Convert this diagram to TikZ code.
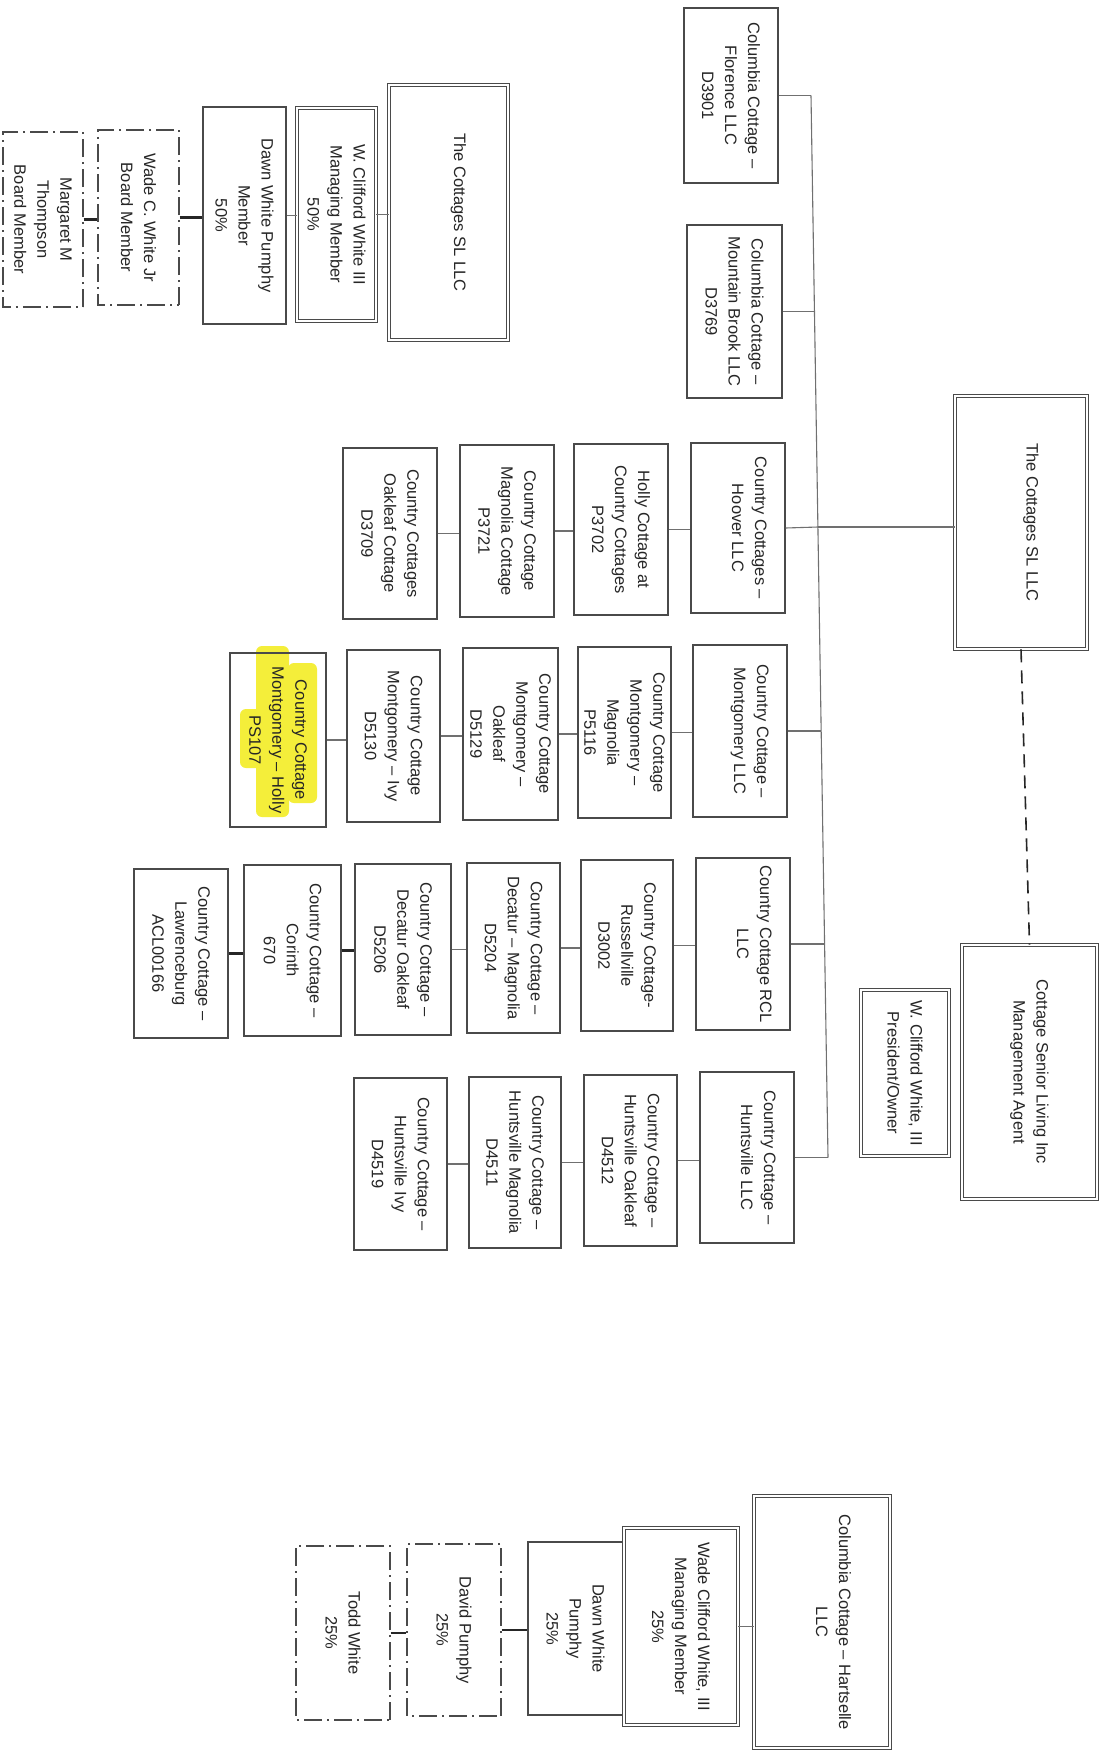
\documentclass[tikz,border=0pt]{standalone}
\usepackage{fontspec}
\newfontfamily\bxf{Liberation Sans}
\definecolor{boxc}{HTML}{4A4A4A}
\definecolor{linec}{HTML}{707070}
\definecolor{hl}{HTML}{F4EE3A}
\tikzset{
 bx/.style={draw=boxc, line width=1.1pt, rotate=-90, inner sep=0pt, align=center, text=black!85, font=\bxf\fontsize{16.5}{23}\selectfont},
 sz/.style n args={2}{minimum height=#1pt, minimum width=#2pt},
 dbl/.style={bx, double, double distance=2.6pt, line width=0.9pt},
 dd/.style={bx, line width=1.3pt, dash pattern=on 18pt off 5pt on 2pt off 5pt},
 conn/.style={draw=linec, line width=1.1pt},
 thk/.style={draw=black!85, line width=2.6pt},
 dsh/.style={draw=black!85, line width=1.6pt, dash pattern=on 13pt off 8pt}
}
\begin{document}
\begin{tikzpicture}[x=1pt,y=-1pt]
\fill[white] (0,0) rectangle (1110,1754);
\useasboundingbox (0,0) rectangle (1110,1754);

% highlight marks
\fill[hl, rounded corners=6pt] (256,646) rectangle (289,817);
\fill[hl, rounded corners=6pt] (288,663) rectangle (317,803);
\fill[hl, rounded corners=6pt] (240,709) rectangle (270,768);

% top owner group
\node[dd, sz={80}{175}] (marg) at (43,219.5) {Margaret M\\Thompson\\Board Member};
\node[dd, sz={81}{175}] (wade) at (138.5,217.5) {Wade C. White Jr\\Board Member};
\node[bx, sz={83}{217}] (dawn1) at (244.5,215.5) {Dawn White Pumphy\\Member\\50\%};
\node[dbl, sz={79}{213}] (wcw1) at (336.5,214.5) {W. Clifford White III\\Managing Member\\50\%};
\node[dbl, sz={119}{255}] (csl1) at (448.5,212.5) {The Cottages SL LLC\\\mbox{}};

% Columbia column
\node[bx, sz={94}{175}] (flor) at (731,95.5) {Columbia Cottage –\\Florence LLC\\D3901};
\node[bx, sz={95}{173}] (mtb) at (734.5,311.5) {Columbia Cottage –\\Mountain Brook LLC\\D3769};

% Hoover row
\node[bx, sz={94}{170}] (hoover) at (738,528) {Country Cottages –\\Hoover LLC\\\mbox{}};
\node[bx, sz={94}{171}] (holly) at (621,529.5) {Holly Cottage at\\Country Cottages\\P3702};
\node[bx, sz={94}{172}] (magp) at (507,531) {Country Cottage\\Magnolia Cottage\\P3721};
\node[bx, sz={94}{171}] (oakd) at (390,533.5) {Country Cottages\\Oakleaf Cottage\\D3709};

% Montgomery row
\node[bx, sz={94}{172}] (mont) at (740,731) {Country Cottage –\\Montgomery LLC\\\mbox{}};
\node[bx, sz={93}{171}] (mmag) at (624.5,732.5) {Country Cottage\\Montgomery –\\Magnolia\\P5116};
\node[bx, sz={95}{172}] (moak) at (510.5,734) {Country Cottage\\Montgomery –\\Oakleaf\\D5129};
\node[bx, sz={93}{172}] (mivy) at (393.5,736) {Country Cottage\\Montgomery – Ivy\\D5130};
\node[bx, sz={96}{174}] (mhol) at (278,740) {Country Cottage\\Montgomery – Holly\\PS107};

% RCL row
\node[bx, sz={94}{172}] (rcl) at (743,944) {Country Cottage RCL\\LLC\\\mbox{}};
\node[bx, sz={92}{171}] (russ) at (627,945.5) {Country Cottage-\\Russellville\\D3002};
\node[bx, sz={93}{170}] (dmag) at (513.5,948) {Country Cottage –\\Decatur – Magnolia\\D5204};
\node[bx, sz={96}{171}] (doak) at (403,949.5) {Country Cottage –\\Decatur Oakleaf\\D5206};
\node[bx, sz={97}{171}] (cor) at (292.5,950.5) {Country Cottage –\\Corinth\\670};
\node[bx, sz={94}{169}] (law) at (181,953.5) {Country Cottage –\\Lawrenceburg\\ACL00166};

% Huntsville row
\node[bx, sz={94}{171}] (hsv) at (747,1157.5) {Country Cottage –\\Huntsville LLC\\\mbox{}};
\node[bx, sz={93}{171}] (hoak) at (630.5,1160.5) {Country Cottage –\\Huntsville Oakleaf\\D4512};
\node[bx, sz={92}{171}] (hmag) at (515,1162.5) {Country Cottage –\\Huntsville Magnolia\\D4511};
\node[bx, sz={93}{172}] (hivy) at (400.5,1164) {Country Cottage –\\Huntsville Ivy\\D4519};

% main parent and management
\node[dbl, sz={132}{253}] (csl) at (1021,522.5) {The Cottages SL LLC\\\mbox{}};
\node[dbl, sz={135}{254}] (sen) at (1029.5,1072) {Cottage Senior Living Inc\\Management Agent};
\node[dbl, sz={88}{166}] (wcwp) at (905,1073) {W. Clifford White, III\\President/Owner};

% bottom owner group
\node[dd, sz={94}{174}] (todd) at (343,1633) {Todd White\\25\%};
\node[dd, sz={94}{172}] (david) at (454,1630) {David Pumphy\\25\%};
\node[bx, sz={95}{173}] (dawn2) at (575.5,1628.5) {Dawn White\\Pumphy\\25\%};
\node[dbl, sz={114}{197}] (wade2) at (681,1626.5) {Wade Clifford White, III\\Managing Member\\25\%};
\node[dbl, sz={136}{252}] (hart) at (822,1622) {Columbia Cottage – Hartselle\\LLC\\\mbox{}};

% trunk junctions
\coordinate (j1) at (811,95.5);
\coordinate (j2) at (814.5,311.5);
\coordinate (j3) at (818,527);
\coordinate (j4) at (821,731);
\coordinate (j5) at (824.5,944);
\coordinate (j6) at (828,1157.5);

% connectors: top group
\draw[thk] (marg.north) -- (marg.north -| wade.south);
\draw[thk] (wade.north) -- (wade.north -| dawn1.south);
\draw[conn] (dawn1.north) -- (dawn1.north -| wcw1.south);
\draw[conn] (wcw1.north) -- (wcw1.north -| csl1.south);

% trunk and branches
\draw[conn] (j1) -- (j6);
\draw[conn] (flor.north) -- (j1);
\draw[conn] (mtb.north) -- (j2);
\draw[conn] (hoover.north) -- (j3);
\draw[conn] (j3) -- (j3 -| csl.south);
\draw[conn] (mont.north) -- (j4);
\draw[conn] (rcl.north) -- (j5);
\draw[conn] (hsv.north) -- (j6);

% rows
\draw[conn] (oakd.north) -- (oakd.north -| magp.south);
\draw[conn] (magp.north) -- (magp.north -| holly.south);
\draw[conn] (holly.north) -- (holly.north -| hoover.south);
\draw[conn] (mhol.north) -- (mhol.north -| mivy.south);
\draw[conn] (mivy.north) -- (mivy.north -| moak.south);
\draw[conn] (moak.north) -- (moak.north -| mmag.south);
\draw[conn] (mmag.north) -- (mmag.north -| mont.south);
\draw[thk] (law.north) -- (law.north -| cor.south);
\draw[thk] (cor.north) -- (cor.north -| doak.south);
\draw[conn] (doak.north) -- (doak.north -| dmag.south);
\draw[conn] (dmag.north) -- (dmag.north -| russ.south);
\draw[conn] (russ.north) -- (russ.north -| rcl.south);
\draw[conn] (hivy.north) -- (hivy.north -| hmag.south);
\draw[conn] (hmag.north) -- (hmag.north -| hoak.south);
\draw[conn] (hoak.north) -- (hoak.north -| hsv.south);

% management link
\draw[dsh] (csl.east) -- (sen.west);

% bottom group
\draw[thk] (todd.north) -- (todd.north -| david.south);
\draw[thk] (david.north) -- (david.north -| dawn2.south);
\draw[conn] (wade2.north) -- (wade2.north -| hart.south);
\end{tikzpicture}
\end{document}
